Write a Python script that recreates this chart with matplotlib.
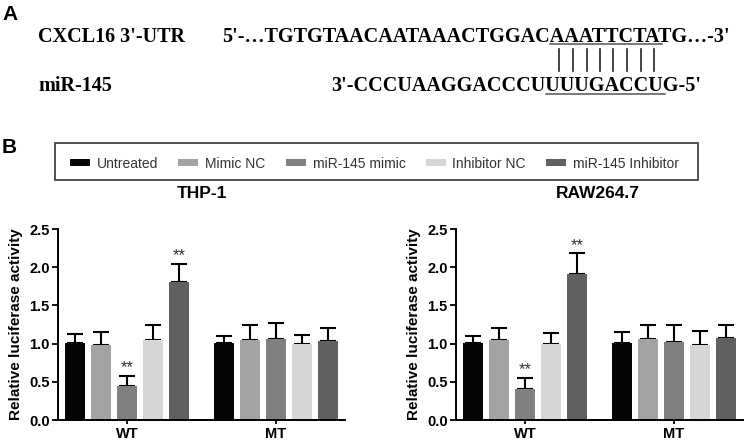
import numpy as np
import matplotlib
matplotlib.use("Agg")
import matplotlib.pyplot as plt
from matplotlib.patches import Rectangle
from matplotlib.lines import Line2D

# data
treatments = ["Untreated", "Mimic NC", "miR-145 mimic", "Inhibitor NC", "miR-145 Inhibitor"]
colors = ["#050505", "#a3a3a3", "#808080", "#d6d6d6", "#606060"]
groups = ["WT", "MT"]

thp1_mean = [[1.01, 0.98, 0.44, 1.05, 1.81],
             [1.01, 1.05, 1.06, 1.00, 1.03]]
thp1_err = [[0.11, 0.17, 0.14, 0.20, 0.23],
            [0.09, 0.19, 0.21, 0.11, 0.17]]
thp1_sig = [[False, False, True, False, True],
            [False, False, False, False, False]]

raw_mean = [[1.01, 1.05, 0.40, 0.99, 1.91],
            [1.01, 1.06, 1.02, 0.98, 1.07]]
raw_err = [[0.09, 0.16, 0.15, 0.15, 0.27],
           [0.14, 0.18, 0.22, 0.19, 0.17]]
raw_sig = [[False, False, True, False, True],
           [False, False, False, False, False]]

utr_prefix = "5'-\u2026TGTGTAACAATAAACTGGAC"
utr_seed = "AAATTCTA"
utr_suffix = "TG\u2026-3'"
mir_prefix = "3'-CCCUAAGGACCCU"
mir_seed = "UUUGACCU"
mir_suffix = "G-5'"

W, H = 745, 442
plt.rcParams["font.family"] = ["Liberation Sans", "DejaVu Sans"]
fig = plt.figure(figsize=(W / 100, H / 100), dpi=100)


def fx(px):
    return px / W


def fy(py):
    return 1 - py / H


serif = dict(family=["Liberation Serif", "DejaVu Serif"], weight="bold", size=14.5)

# ---- panel A ----
fig.text(fx(2), fy(20), "A", fontsize=15, fontweight="bold", va="baseline")
fig.text(fx(2), fy(153), "B", fontsize=15, fontweight="bold", va="baseline")
fig.text(fx(38), fy(42), "CXCL16 3'-UTR", va="baseline", **serif)
fig.text(fx(38), fy(91), "miR-145", va="baseline", **serif)

renderer = fig.canvas.get_renderer()
fp = matplotlib.font_manager.FontProperties(family=serif["family"], weight="bold", size=serif["size"])


def tw(s):
    if not s:
        return 0.0
    w, _, _ = renderer.get_text_width_height_descent(s, fp, ismath=False)
    return w


utr_x = 222
fig.text(fx(utr_x), fy(42), utr_prefix + utr_seed + utr_suffix, va="baseline", **serif)
u0 = utr_x + tw(utr_prefix) + 1
u1 = utr_x + tw(utr_prefix + utr_seed) + 1
seed_mid = (u0 + u1) / 2

# line the miR seed up under the UTR seed
w_pre = tw(mir_prefix)
w_seed = tw(mir_prefix + mir_seed) - w_pre
mir_x = seed_mid - w_pre - w_seed / 2 - 1
fig.text(fx(mir_x), fy(91), mir_prefix + mir_seed + mir_suffix, va="baseline", **serif)
m0 = mir_x + w_pre + 1
m1 = mir_x + tw(mir_prefix + mir_seed) + 1

fig.add_artist(Line2D([fx(u0 - 1), fx(u1 + 1)], [fy(44), fy(44)], color="#555555", lw=1.1))
fig.add_artist(Line2D([fx(m0 - 1), fx(m1 + 1)], [fy(93.5), fy(93.5)], color="#555555", lw=1.1))

for k in range(len(utr_seed)):
    a = utr_x + tw(utr_prefix + utr_seed[:k]) if k else u0
    b = utr_x + tw(utr_prefix + utr_seed[:k + 1])
    cx = (a + b) / 2 + 1
    fig.add_artist(Line2D([fx(cx), fx(cx)], [fy(49), fy(71)], color="#222222", lw=1.2))

# ---- legend ----
fig.add_artist(Rectangle((fx(55), fy(180)), fx(698) - fx(55), fy(143) - fy(180),
                         transform=fig.transFigure, fill=False, edgecolor="#444444", lw=1.3))
lx = 70
for name, c in zip(treatments, colors):
    fig.add_artist(Rectangle((fx(lx), fy(166)), fx(20), fy(159) - fy(166),
                             transform=fig.transFigure, facecolor=c, edgecolor="none"))
    t = fig.text(fx(lx + 27), fy(168), name, fontsize=10, color="#333333", va="baseline")
    w, _, _ = renderer.get_text_width_height_descent(name, t.get_fontproperties(), ismath=False)
    lx = lx + 27 + w + 20

# ---- panel B ----
slot = 0.1745
bw = 0.134
x = np.arange(len(groups))


def draw_panel(ax, mean, err, sig, title, title_x):
    for i, c in enumerate(colors):
        xs = x + (i - 2) * slot
        vals = [mean[g][i] for g in range(len(groups))]
        errs = [err[g][i] for g in range(len(groups))]
        ax.bar(xs, vals, bw, color=c, zorder=2)
        ax.errorbar(xs, vals, yerr=[np.zeros(len(errs)), errs], fmt="none",
                    ecolor="black", elinewidth=1.5, capsize=6, capthick=1.5, zorder=1)
        for g in range(len(groups)):
            if sig[g][i]:
                ax.text(xs[g], vals[g] + errs[g] + 0.01, "**", ha="center", va="bottom",
                        fontsize=12, color="#333333")
    ax.set_xlim(-0.463, 1.463)
    ax.set_ylim(0, 2.5)
    ax.set_yticks(np.arange(0, 2.51, 0.5))
    ax.set_yticklabels([f"{v:.1f}" for v in np.arange(0, 2.51, 0.5)], fontweight="bold", fontsize=10.5)
    ax.set_xticks(x)
    ax.set_xticklabels(groups, fontweight="bold", fontsize=10.5)
    ax.set_ylabel("Relative luciferase activity", fontweight="bold", fontsize=11)
    for s in ["top", "right"]:
        ax.spines[s].set_visible(False)
    for s in ["left", "bottom"]:
        ax.spines[s].set_linewidth(1.4)
    ax.tick_params(axis="y", length=4.5, width=1.3, pad=1.5)
    ax.tick_params(axis="x", length=3, width=1.3, pad=2)
    fig.text(fx(title_x), fy(198), title, fontsize=12.5, fontweight="bold", ha="center", va="baseline")


ax1 = fig.add_axes([fx(58), fy(420), fx(345) - fx(58), fy(229) - fy(420)])
draw_panel(ax1, thp1_mean, thp1_err, thp1_sig, "THP-1", 202)
ax2 = fig.add_axes([fx(456), fy(420), fx(743) - fx(456), fy(229) - fy(420)])
draw_panel(ax2, raw_mean, raw_err, raw_sig, "RAW264.7", 598)

fig.savefig("out.png", dpi=100)
